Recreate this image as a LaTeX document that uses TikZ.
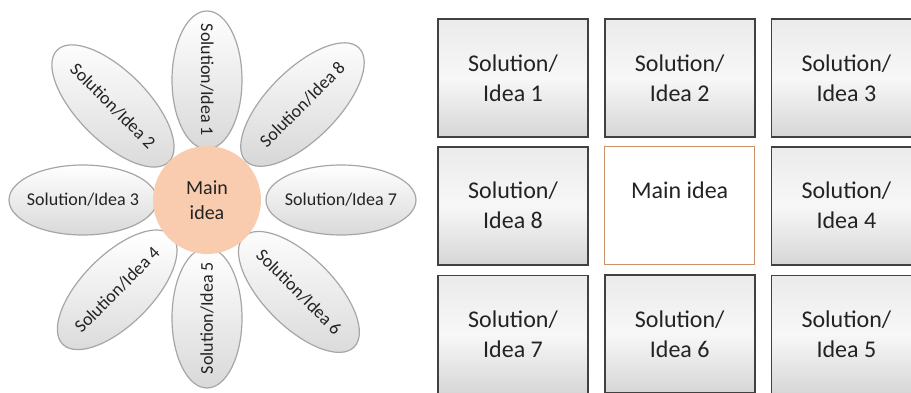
\documentclass[tikz,border=0pt]{standalone}
\usepackage{fontspec}
\setmainfont{Carlito}
\usetikzlibrary{positioning,shapes.geometric,calc}

\definecolor{peach}{RGB}{249,204,176}
\definecolor{boxline}{RGB}{65,65,65}
\definecolor{mainline}{RGB}{205,145,105}
\definecolor{txt}{RGB}{35,35,35}

\tikzset{
  petal/.style={ellipse, draw=gray!70, line width=1.2pt,
    minimum height=70pt, inner sep=0pt,
    top color=white, bottom color=gray!30},
  petaltext/.style={text=txt, inner sep=0pt, font=\fontsize{18}{21}\selectfont},
  ideabox/.style={rectangle, draw=boxline, line width=1.7pt,
    minimum width=150pt, minimum height=118pt, align=center, text=txt,
    font=\fontsize{24}{30}\selectfont},
  solbox/.style={ideabox, top color=gray!16, bottom color=gray!32, middle color=gray!6},
}

\begin{document}
\begin{tikzpicture}[x=1pt, y=1pt]
  \clip (0,0) rectangle (911,392);
  % flower
  \coordinate (c) at (207,192);
  \foreach \i/\a/\r/\d/\l in {1/90/-90/120/138, 2/135/-45/133/158, 3/180/0/124/148, 4/225/45/127/154,
                              5/270/90/118/140, 6/315/-45/130/156, 7/0/0/134/150, 8/45/45/135/160}{
    \node[petal, minimum width=\l pt, rotate=\a] (p\i) at ($(c)+(\a:\d)$) {};
    \node[petaltext, rotate=\r] (t\i) at (p\i) {Solution/Idea \i};
  }
  \node[circle, fill=peach, minimum size=108pt, align=center, text=txt,
        font=\fontsize{20}{25}\selectfont] (main) at (c) {Main\\idea};
  % grid
  \node[solbox] (g1) at (513,314) {Solution/\\Idea 1};
  \node[solbox, right=15pt of g1] (g2) {Solution/\\Idea 2};
  \node[solbox, right=15pt of g2] (g3) {Solution/\\Idea 3};
  \node[solbox, below=8pt of g1] (g8) {Solution/\\Idea 8};
  \node[ideabox, draw=mainline, line width=1.2pt, fill=white, below=8pt of g2] (gm) {Main idea\\\phantom{Idea}};
  \node[solbox, below=8pt of g3] (g4) {Solution/\\Idea 4};
  \node[solbox, below=9pt of g8] (g7) {Solution/\\Idea 7};
  \node[solbox, below=9pt of gm] (g6) {Solution/\\Idea 6};
  \node[solbox, below=9pt of g4] (g5) {Solution/\\Idea 5};
\end{tikzpicture}
\end{document}
